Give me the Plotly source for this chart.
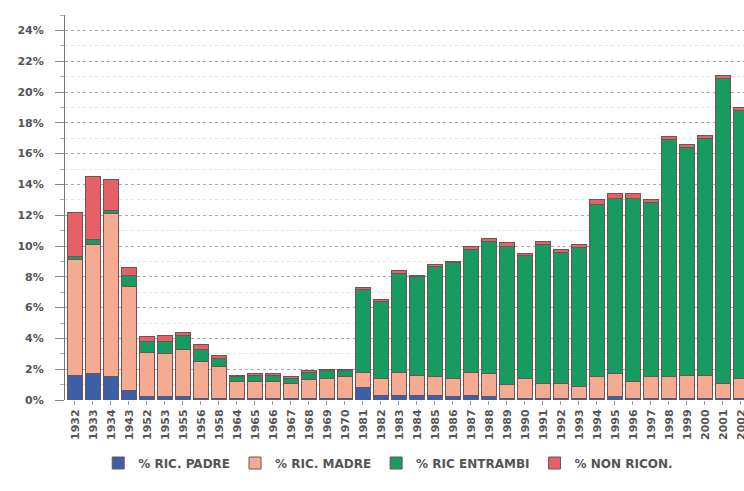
import plotly.graph_objects as go

years = ["1932", "1933", "1934", "1943", "1952", "1953", "1955", "1956", "1958",
         "1964", "1965", "1966", "1967", "1968", "1969", "1970",
         "1981", "1982", "1983", "1984", "1985", "1986", "1987", "1988", "1989",
         "1990", "1991", "1992", "1993", "1994", "1995", "1996", "1997", "1998",
         "1999", "2000", "2001", "2002"]

ric_padre = [1.6, 1.7, 1.5, 0.6, 0.2, 0.2, 0.2, 0.1, 0.1,
             0.1, 0.1, 0.1, 0.1, 0.1, 0.1, 0.1,
             0.8, 0.3, 0.3, 0.3, 0.3, 0.2, 0.3, 0.2, 0.1,
             0.1, 0.1, 0.1, 0.1, 0.1, 0.2, 0.1, 0.1, 0.1,
             0.1, 0.1, 0.1, 0.1]

ric_madre = [7.5, 8.4, 10.6, 6.8, 2.9, 2.8, 3.1, 2.4, 2.1,
             1.1, 1.1, 1.1, 1.0, 1.2, 1.3, 1.4,
             1.0, 1.1, 1.5, 1.3, 1.2, 1.2, 1.5, 1.5, 0.9,
             1.3, 1.0, 1.0, 0.8, 1.4, 1.5, 1.1, 1.4, 1.4,
             1.5, 1.5, 1.0, 1.3]

ric_entrambi = [0.2, 0.3, 0.2, 0.7, 0.7, 0.8, 0.9, 0.8, 0.5,
                0.3, 0.4, 0.4, 0.3, 0.5, 0.5, 0.4,
                5.4, 5.0, 6.4, 6.4, 7.2, 7.5, 8.0, 8.6, 9.0,
                8.0, 9.0, 8.5, 9.0, 11.2, 11.4, 11.9, 11.3, 15.4,
                14.8, 15.4, 19.8, 17.4]

non_ricon = [2.9, 4.1, 2.0, 0.5, 0.3, 0.4, 0.2, 0.3, 0.2,
             0.1, 0.1, 0.1, 0.1, 0.1, 0.1, 0.1,
             0.1, 0.1, 0.2, 0.1, 0.1, 0.1, 0.2, 0.2, 0.2,
             0.1, 0.2, 0.2, 0.2, 0.3, 0.3, 0.3, 0.2, 0.2,
             0.2, 0.2, 0.2, 0.2]

y_ticks = [0, 2, 4, 6, 8, 10, 12, 14, 16, 18, 20, 22, 24]

series = [
    ("% RIC. PADRE", ric_padre, "#3d5fa6"),
    ("% RIC. MADRE", ric_madre, "#f5ab92"),
    ("% RIC ENTRAMBI", ric_entrambi, "#179b60"),
    ("% NON RICON.", non_ricon, "#e6606a"),
]

fig = go.Figure()
for name, vals, col in series:
    fig.add_trace(go.Bar(
        x=years, y=vals, name=name,
        marker=dict(color=col, line=dict(color="#6e5555", width=1)),
    ))

fig.update_layout(
    barmode="stack",
    bargap=0.14,
    width=744, height=491,
    margin=dict(l=65, r=0, t=15, b=91, autoexpand=False),
    paper_bgcolor="white",
    plot_bgcolor="white",
    font=dict(family="DejaVu Sans", size=11, color="#555555", weight="bold"),
    showlegend=True,
    legend=dict(orientation="h", x=0.476, xanchor="center", y=-0.126, yanchor="top",
                font=dict(family="DejaVu Sans", size=12, color="#555555", weight="bold"),
                traceorder="normal", itemwidth=30),
)

fig.update_xaxes(
    type="category",
    range=[-0.555, 37.17],
    automargin=False,
    tickangle=-90,
    tickfont=dict(size=11, color="#555555"),
    ticks="outside", ticklen=4, tickcolor="#999999",
    showline=False,
    showgrid=False,
)

fig.update_yaxes(
    range=[0, 25],
    automargin=False,
    tickvals=y_ticks,
    ticktext=[f"{v}%" for v in y_ticks],
    tickfont=dict(size=11, color="#555555"),
    ticks="outside", ticklen=9, tickcolor="#888888",
    ticklabelstandoff=9,
    showline=True, linecolor="#777777", linewidth=1,
    showgrid=True, gridcolor="#aaaaaa", griddash="dot", gridwidth=1,
    minor=dict(dtick=1, ticks="outside", ticklen=4, tickcolor="#aaaaaa",
               showgrid=True, gridcolor="#e2e2e2", griddash="dot"),
    zeroline=False,
)

fig.write_html("out.html",
               config={"displayModeBar": False},
               post_script="document.body.style.margin='0px';document.body.style.overflow='hidden';")
